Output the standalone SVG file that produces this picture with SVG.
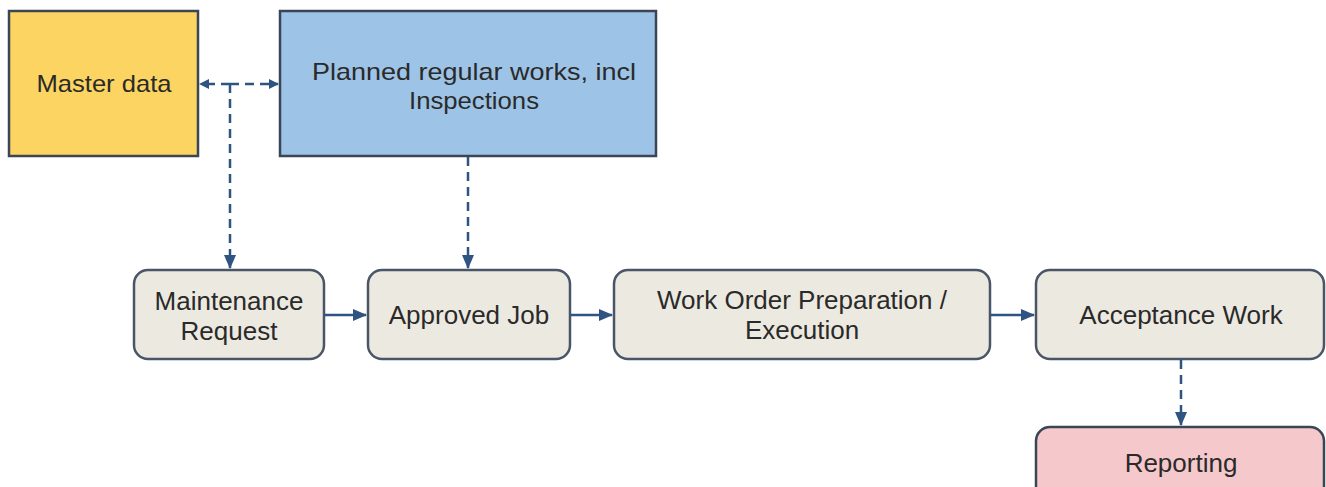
<svg xmlns="http://www.w3.org/2000/svg" width="1326" height="487" viewBox="0 0 1326 487">
<style>
.t{font-family:"Liberation Sans",Arial,sans-serif;font-size:24px;fill:#2a2a2a;text-anchor:middle}
.b{font-size:26px}
.box{stroke:#3a4656;stroke-width:2.5}
.proc{fill:#ECE9E0;stroke:#4a5668;stroke-width:2.5}
.c{stroke:#2f5482;stroke-width:2.5;fill:none}
.d{stroke-dasharray:9,6}
</style>
<defs>
<marker id="ah" markerWidth="10" markerHeight="10" refX="9" refY="5" orient="auto" markerUnits="userSpaceOnUse">
<path d="M0,0 L10,5 L0,10 Z" fill="#2f5482"/>
</marker>
<marker id="ahs" markerWidth="14" markerHeight="12" refX="13" refY="6" orient="auto" markerUnits="userSpaceOnUse">
<path d="M0,0 L14,6 L0,12 Z" fill="#2f5482"/>
</marker>
</defs>
<rect width="1326" height="487" fill="#ffffff"/>
<g id="master">
<rect class="box" x="9" y="11" width="189" height="145" fill="#FCD462"/>
<text class="t" x="104" y="92" textLength="135" lengthAdjust="spacingAndGlyphs">Master data</text>
</g>
<g id="planned">
<rect class="box" x="280" y="11" width="376" height="145" fill="#9DC3E6"/>
<text class="t" x="474" y="80" textLength="324" lengthAdjust="spacingAndGlyphs">Planned regular works, incl</text>
<text class="t" x="474" y="109" textLength="130" lengthAdjust="spacingAndGlyphs">Inspections</text>
</g>
<g id="maint">
<rect class="proc" x="134" y="270" width="190" height="89" rx="14"/>
<text class="t b" x="229" y="310">Maintenance</text>
<text class="t b" x="229" y="340">Request</text>
</g>
<g id="approved">
<rect class="proc" x="368" y="270" width="202" height="89" rx="14"/>
<text class="t b" x="469" y="324">Approved Job</text>
</g>
<g id="workorder">
<rect class="proc" x="614" y="270" width="376" height="89" rx="14"/>
<text class="t b" x="802" y="309">Work Order Preparation /</text>
<text class="t b" x="802" y="339">Execution</text>
</g>
<g id="acceptance">
<rect class="proc" x="1036" y="270" width="288" height="89" rx="14"/>
<text class="t b" x="1181" y="324">Acceptance Work</text>
</g>
<g id="reporting">
<rect class="box" x="1036" y="427" width="288" height="80" rx="14" fill="#F5C9CC"/>
<text class="t b" x="1181" y="472">Reporting</text>
</g>
<g id="connectors">
<path class="c d" d="M230,84 H200" marker-end="url(#ah)"/>
<path class="c d" d="M230,84 H278" marker-end="url(#ah)"/>
<path class="c d" d="M230,84 V268" marker-end="url(#ahs)"/>
<path class="c d" d="M468,157 V268" marker-end="url(#ahs)"/>
<path class="c" d="M324,315 H366" marker-end="url(#ahs)"/>
<path class="c" d="M570,315 H612" marker-end="url(#ahs)"/>
<path class="c" d="M990,315 H1034" marker-end="url(#ahs)"/>
<path class="c d" d="M1181,360 V425" marker-end="url(#ahs)"/>
</g>
</svg>
